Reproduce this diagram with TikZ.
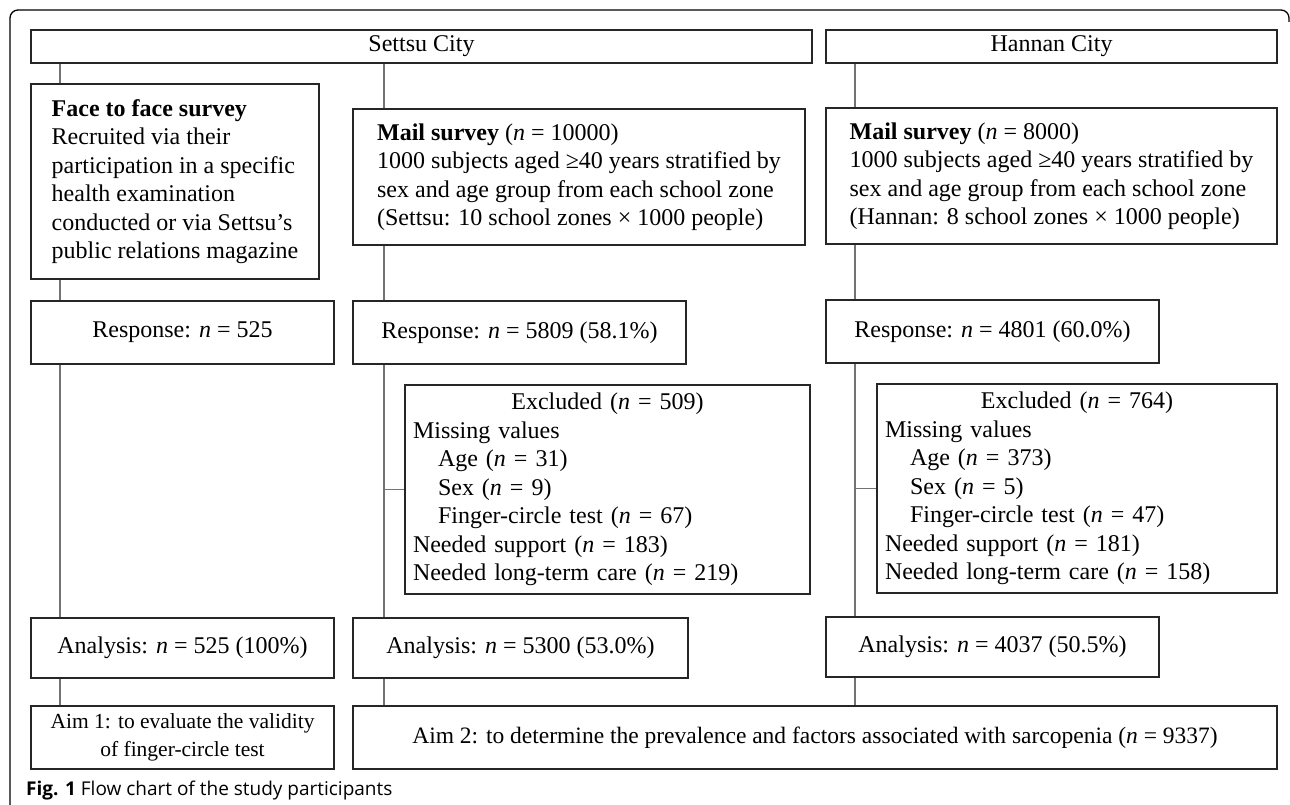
\documentclass[tikz,border=0pt]{standalone}
\usepackage{fontspec}
\setmainfont{Liberation Serif}
\newfontfamily\capfont{Open Sans}
\usetikzlibrary{positioning}

\begin{document}
\begin{tikzpicture}[
    x=1pt, y=-1pt,
    box/.style={rectangle, draw=black!85, line width=2pt, fill=white, inner sep=0pt,
        align=center, font=\fontsize{24}{28.5}\selectfont},
    aimbox/.style={box, font=\fontsize{21.5}{28.5}\selectfont},
    link/.style={draw=black!55, line width=1.2pt},
    frame/.style={draw=black, line width=1.3pt, rounded corners=8pt}
]
\useasboundingbox (0,0) rectangle (1290,805);

% Outer frame
\draw[frame] (10,810) -- (10,10) -- (1289,10) -- (1289,22);

% Cities
\node[box, minimum width=781pt, minimum height=33pt, anchor=north west] (settsu) at (30,29) {Settsu City};
\node[box, minimum width=451pt, minimum height=33pt, right=12pt of settsu] (hannan) {Hannan City};

% Surveys
\node[box, minimum width=288pt, minimum height=195pt, align=left,
      below right=19pt and 0pt of settsu.south west] (face)
    {\textbf{Face to face survey}\\ Recruited via their\\ participation in a specific\\
     health examination\\ conducted or via Settsu’s\\ public relations magazine};
\node[box, minimum width=452pt, minimum height=136pt, align=left,
      below right=25pt and 32pt of face.north east] (mailS)
    {\textbf{Mail survey} (\textit{n} = 10000)\\ 1000 subjects aged ≥40 years stratified by\\
     sex and age group from each school zone\\ (Settsu: 10 school zones × 1000 people)};
\node[box, minimum width=451pt, minimum height=136pt, align=left,
      below right=43pt and 0pt of hannan.south west] (mailH)
    {\textbf{Mail survey} (\textit{n} = 8000)\\ 1000 subjects aged ≥40 years stratified by\\
     sex and age group from each school zone\\ (Hannan: 8 school zones × 1000 people)};

% Responses
\node[box, minimum width=303pt, minimum height=63pt, below right=20pt and 0pt of face.south west] (respF)
    {Response: \textit{n} = 525};
\node[box, minimum width=333pt, minimum height=63pt, below right=54pt and 0pt of mailS.south west] (respS)
    {Response: \textit{n} = 5809 (58.1\%)};
\node[box, minimum width=333pt, minimum height=63pt, below right=54pt and 0pt of mailH.south west] (respH)
    {Response: \textit{n} = 4801 (60.0\%)};

% Exclusions
\node[box, minimum width=405pt, minimum height=209pt, text width=389pt, align=left,
      below right=19pt and 52pt of respS.south west] (exclS)
    {\makebox[\linewidth]{Excluded (\textit{n} = 509)}\\ Missing values\\
     \hspace*{25pt}Age (\textit{n} = 31)\\ \hspace*{25pt}Sex (\textit{n} = 9)\\
     \hspace*{25pt}Finger-circle test (\textit{n} = 67)\\ Needed support (\textit{n} = 183)\\
     Needed long-term care (\textit{n} = 219)};
\node[box, minimum width=400pt, minimum height=209pt, text width=384pt, align=left,
      below right=19pt and 51pt of respH.south west] (exclH)
    {\makebox[\linewidth]{Excluded (\textit{n} = 764)}\\ Missing values\\
     \hspace*{25pt}Age (\textit{n} = 373)\\ \hspace*{25pt}Sex (\textit{n} = 5)\\
     \hspace*{25pt}Finger-circle test (\textit{n} = 47)\\ Needed support (\textit{n} = 181)\\
     Needed long-term care (\textit{n} = 158)};

% Analyses
\node[box, minimum width=303pt, minimum height=60pt, below right=252pt and 0pt of respF.south west] (anaF)
    {Analysis: \textit{n} = 525 (100\%)};
\node[box, minimum width=335pt, minimum height=60pt, below right=252pt and 0pt of respS.south west] (anaS)
    {Analysis: \textit{n} = 5300 (53.0\%)};
\node[box, minimum width=333pt, minimum height=60pt, below right=252pt and 0pt of respH.south west] (anaH)
    {Analysis: \textit{n} = 4037 (50.5\%)};

% Aims
\node[aimbox, minimum width=303pt, minimum height=63pt, below right=26pt and 0pt of anaF.south west] (aimA)
    {Aim 1: to evaluate the validity\\ of finger-circle test};
\node[aimbox, font=\fontsize{23.5}{28.5}\selectfont, minimum width=924pt, minimum height=63pt,
      below right=26pt and 0pt of anaS.south west] (aimB)
    {Aim 2: to determine the prevalence and factors associated with sarcopenia (\textit{n} = 9337)};

% Columns of connectors
\coordinate (colF) at ([xshift=30pt]settsu.south west);
\coordinate (colS) at ([xshift=32pt]mailS.north west);
\coordinate (colH) at ([xshift=30pt]hannan.south west);

\draw[link] (settsu.south -| colF) -- (face.north -| colF);
\draw[link] (face.south -| colF) -- (respF.north -| colF);
\draw[link] (respF.south -| colF) -- (anaF.north -| colF);
\draw[link] (anaF.south -| colF) -- (aimA.north -| colF);

\draw[link] (settsu.south -| colS) -- (mailS.north -| colS);
\draw[link] (mailS.south -| colS) -- (respS.north -| colS);
\draw[link] (respS.south -| colS) -- (anaS.north -| colS);
\draw[link] (exclS.west -| colS) -- (exclS.west);
\draw[link] (anaS.south -| colS) -- (aimB.north -| colS);

\draw[link] (hannan.south -| colH) -- (mailH.north -| colH);
\draw[link] (mailH.south -| colH) -- (respH.north -| colH);
\draw[link] (respH.south -| colH) -- (anaH.north -| colH);
\draw[link] (exclH.west -| colH) -- (exclH.west);
\draw[link] (anaH.south -| colH) -- (aimB.north -| colH);

% Caption
\node[anchor=base west, inner sep=0pt, font=\capfont\fontsize{19}{22}\selectfont] (caption) at (26,795)
    {\textbf{Fig. 1} Flow chart of the study participants};

\end{tikzpicture}
\end{document}
